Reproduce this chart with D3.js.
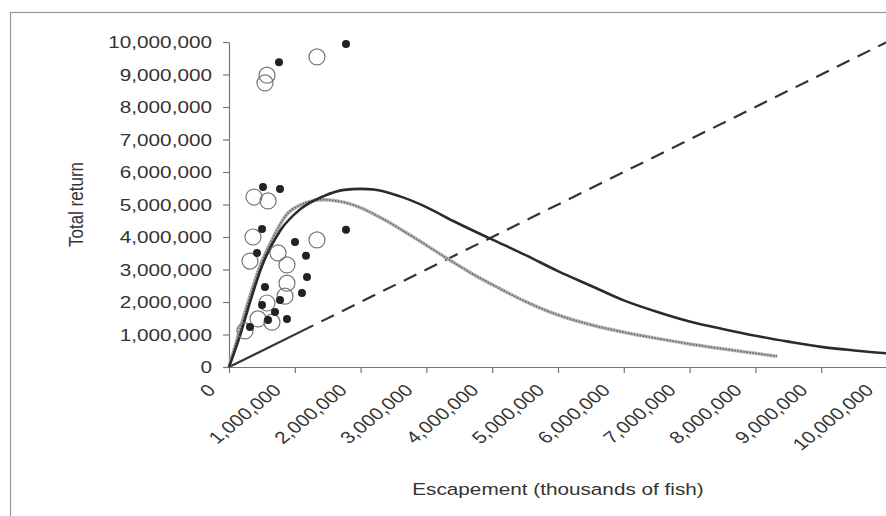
<!DOCTYPE html>
<html>
<head>
<meta charset="utf-8">
<script src="https://cdn.jsdelivr.net/npm/d3@7"></script>
<style>
  body { margin: 0; background: #fff; }
  text { font-family: "Liberation Sans", Arial, sans-serif; fill: #333; }
</style>
</head>
<body>
<svg id="chart"></svg>
<script>
// --- Data (fish) ---
const M = 1000000;

// tick values
const xTicks = [0, 1, 2, 3, 4, 5, 6, 7, 8, 9, 10].map(d => d * M);
const yTicks = [0, 1, 2, 3, 4, 5, 6, 7, 8, 9, 10].map(d => d * M);

// solid black curve
const solidX = [0, 0.17, 0.32, 0.50, 0.78, 1.08, 1.43, 1.75, 2.0, 2.2, 2.6, 3.0, 3.4, 3.97, 4.5, 5.0, 5.5, 6.0, 6.5, 7.0, 7.5, 8.0, 8.5, 9.0, 9.5, 10.0].map(d => d * M);
const solidY = [0, 0.98, 2.0, 3.1, 4.2, 4.85, 5.25, 5.45, 5.48, 5.46, 5.25, 4.92, 4.5, 3.95, 3.45, 2.95, 2.5, 2.05, 1.7, 1.4, 1.17, 0.96, 0.78, 0.62, 0.51, 0.42].map(d => d * M);

// grey hatched curve
const greyX = [0, 0.14, 0.29, 0.47, 0.65, 0.88, 1.08, 1.28, 1.45, 1.6, 1.9, 2.3, 2.8, 3.3, 3.8, 4.07, 4.5, 5.0, 5.5, 6.0, 6.5, 7.0, 7.5, 8.0, 8.33].map(d => d * M);
const greyY = [0, 0.98, 2.0, 3.1, 3.9, 4.7, 4.98, 5.12, 5.15, 5.12, 4.98, 4.6, 4.0, 3.36, 2.75, 2.46, 2.02, 1.6, 1.3, 1.07, 0.88, 0.71, 0.56, 0.42, 0.33].map(d => d * M);

// replacement (1:1) line
const replX = [0, 10].map(d => d * M);
const replY = [0, 10].map(d => d * M);

// filled points
const filledX = [1.778, 0.760, 0.517, 0.775, 0.502, 1.778, 1.003, 1.170, 0.426, 1.185, 0.547, 1.109, 0.775, 0.502, 0.699, 0.593, 0.881, 0.319].map(d => d * M);
const filledY = [9.94, 9.38, 5.54, 5.48, 4.25, 4.22, 3.85, 3.42, 3.51, 2.77, 2.46, 2.28, 2.06, 1.91, 1.69, 1.45, 1.48, 1.23].map(d => d * M);

// open points
const openX = [0.578, 0.547, 1.337, 0.380, 0.593, 0.365, 1.337, 0.319, 0.745, 0.881, 0.881, 0.851, 0.578, 0.441, 0.653, 0.243].map(d => d * M);
const openY = [8.98, 8.74, 9.54, 5.23, 5.11, 4.0, 3.91, 3.26, 3.51, 3.14, 2.58, 2.18, 1.97, 1.48, 1.38, 1.11].map(d => d * M);

// --- Layout ---
const W = 886, H = 516;
const plot = { left: 229, right: 887, top: 42, bottom: 367 };
const STRETCH = 1.22; // the scan is wider than tall

const svg = d3.select('#chart').attr('width', W).attr('height', H);

// outer frame
svg.append('rect')
   .attr('x', 10.5).attr('y', 12.5)
   .attr('width', W + 10).attr('height', H + 10)
   .attr('fill', 'none').attr('stroke', '#999').attr('stroke-width', 1.2);

const xScale = d3.scaleLinear().domain([0, 10 * M]).range([plot.left, plot.right]);
const yScale = d3.scaleLinear().domain([0, 10 * M]).range([plot.bottom, plot.top]);
const fmt = d3.format(',');

// Axes
const yAxis = svg.append('g')
   .attr('transform', `translate(${plot.left},0)`)
   .call(d3.axisLeft(yScale).tickValues(yTicks).tickFormat(fmt).tickSize(6).tickSizeOuter(0));
yAxis.selectAll('text')
   .attr('x', 0).attr('dy', '0.35em')
   .attr('transform', `translate(-17,0) scale(${STRETCH},1)`)
   .style('font-size', '17px');

const xAxis = svg.append('g')
   .attr('transform', `translate(0,${plot.bottom})`)
   .call(d3.axisBottom(xScale).tickValues(xTicks).tickFormat(fmt).tickSize(6).tickSizeOuter(0));
xAxis.selectAll('text')
   .attr('x', 0).attr('y', 0).attr('dy', '0.35em')
   .attr('text-anchor', 'end')
   .attr('transform', `translate(-18,20) scale(${STRETCH},1) rotate(-45)`)
   .style('font-size', '17px');

svg.selectAll('.domain, .tick line').attr('stroke', '#777').attr('stroke-width', 1.2);

// Axis titles
svg.append('text')
   .attr('transform', `translate(76,${(plot.top + plot.bottom) / 2}) scale(${STRETCH},1) rotate(-90)`)
   .attr('text-anchor', 'middle').attr('dy', '0.35em')
   .style('font-size', '17px')
   .text('Total return');

svg.append('text')
   .attr('transform', `translate(${(plot.left + plot.right) / 2},495) scale(${STRETCH},1)`)
   .attr('text-anchor', 'middle')
   .style('font-size', '17px')
   .text('Escapement (thousands of fish)');

// --- Lines ---
const line = d3.line().x(d => xScale(d[0])).y(d => yScale(d[1]));
const smooth = d3.line().x(d => xScale(d[0])).y(d => yScale(d[1])).curve(d3.curveMonotoneX);

// 1:1 line: solid start, then dashes
const replPath = svg.append('path')
   .datum(d3.zip(replX, replY))
   .attr('d', line)
   .attr('fill', 'none').attr('stroke', '#333').attr('stroke-width', 2.2);
const totalLen = replPath.node().getTotalLength();
let dash = [94, 9];
let acc = 103;
while (acc < totalLen) { dash.push(14, 9); acc += 23; }
replPath.attr('stroke-dasharray', dash.join(' '));

// grey hatched curve
const grey = d3.zip(greyX, greyY);
svg.append('path').datum(grey).attr('d', smooth)
   .attr('fill', 'none').attr('stroke', '#b5b5b5').attr('stroke-width', 3.5);
svg.append('path').datum(grey).attr('d', smooth)
   .attr('fill', 'none').attr('stroke', '#666').attr('stroke-width', 1.6)
   .attr('stroke-dasharray', '1.5 1.5');

// solid black curve
svg.append('path').datum(d3.zip(solidX, solidY)).attr('d', smooth)
   .attr('fill', 'none').attr('stroke', '#2b2b2b').attr('stroke-width', 2.6);

// --- Points ---
svg.append('g').selectAll('circle')
   .data(d3.zip(openX, openY))
   .enter().append('circle')
   .attr('cx', d => xScale(d[0])).attr('cy', d => yScale(d[1]))
   .attr('r', 8)
   .attr('fill', 'none').attr('stroke', '#777').attr('stroke-width', 1.2);

svg.append('g').selectAll('circle')
   .data(d3.zip(filledX, filledY))
   .enter().append('circle')
   .attr('cx', d => xScale(d[0])).attr('cy', d => yScale(d[1]))
   .attr('r', 4)
   .attr('fill', '#222');
</script>
</body>
</html>
